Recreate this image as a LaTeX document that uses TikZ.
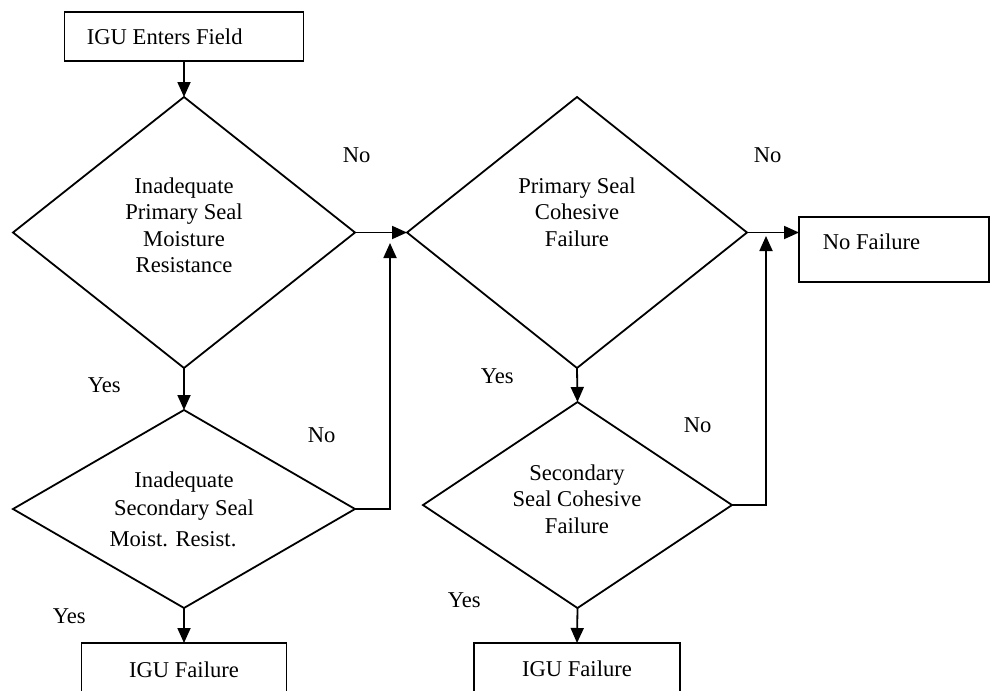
\documentclass[tikz,border=0pt]{standalone}
\usepackage{fontspec}
\setmainfont{Liberation Serif}
\usetikzlibrary{arrows.meta,shapes.geometric}
\begin{document}
\begin{tikzpicture}[x=1pt,y=-1pt,
  font=\fontsize{22.6}{26.5}\selectfont,
  line width=1.8pt,
  arr/.style={-{Triangle[length=15pt,width=13pt]}},
  decision/.style={diamond,draw,inner sep=0pt,outer sep=0pt,aspect=1},
  stepbox/.style={rectangle,draw,inner sep=0pt,outer sep=0pt},
  txt/.style={anchor=base,inner sep=0pt},
  lbl/.style={anchor=base west,inner sep=0pt}]
\clip (0,0) rectangle (991,691);

% boxes
\node[stepbox,minimum width=239pt,minimum height=49pt] (start) at (184,36.5) {};
\node[lbl] (starttxt) at (86,44) {IGU Enters Field};
\node[stepbox,minimum width=190pt,minimum height=65pt] (nofail) at (894,249.5) {};
\node[lbl] (nofailtxt) at (822,249) {No Failure};
\node[stepbox,anchor=north,minimum width=205pt,minimum height=80pt] (fail1) at (184,643) {};
\node[txt] (fail1txt) at (184,677) {IGU Failure};
\node[stepbox,anchor=north,minimum width=206pt,minimum height=80pt] (fail2) at (577,643) {};
\node[txt] (fail2txt) at (577,676) {IGU Failure};

% decisions
\node[decision,minimum width=342pt,minimum height=271pt] (d1) at (184,232.5) {};
\node[txt] (d1txt) at (184,193) {\begin{tabular}[t]{@{}c@{}}Inadequate\\Primary Seal\\Moisture\\Resistance\end{tabular}};
\node[decision,minimum width=342pt,minimum height=198pt] (d2) at (184,509) {};
\node[txt] (d2txt) at (184,487) {\begin{tabular}[t]{@{}c@{}}Inadequate\\[1.5pt]Secondary Seal\\[4.5pt]Moist. Resist.\hspace*{22pt}\end{tabular}};
\node[decision,minimum width=340pt,minimum height=271pt] (d3) at (577,232.5) {};
\node[txt] (d3txt) at (577,193) {\begin{tabular}[t]{@{}c@{}}Primary Seal\\Cohesive\\Failure\end{tabular}};
\node[decision,minimum width=309pt,minimum height=206pt] (d4) at (577.5,505) {};
\node[txt] (d4txt) at (577,480) {\begin{tabular}[t]{@{}c@{}}Secondary\\Seal Cohesive\\Failure\end{tabular}};

% branch labels
\node[lbl] (no1) at (342,162) {No};
\node[lbl] (no3) at (753,162) {No};
\node[lbl] (yes1) at (87,392) {Yes};
\node[lbl] (yes2) at (52,623) {Yes};
\node[lbl] (no2) at (307,442) {No};
\node[lbl] (yes3) at (480,383) {Yes};
\node[lbl] (yes4) at (447,607) {Yes};
\node[lbl] (no4) at (683,432) {No};

% joins onto the horizontal lines
\coordinate (j1) at (390,243);
\coordinate (j2) at (766,236);

% connectors
\draw[arr] (start.south) -- (d1.north);
\draw[arr] (d1.south) -- (d2.north);
\draw[arr] (d2.south) -- (fail1.north);
\draw[arr] (d1.east) -- (d3.west);
\draw[arr] (d2.east) -| (j1);
\draw[arr] (d3.south) -- (d4.north);
\draw[arr] (d4.south) -- (fail2.north);
\draw[arr] (d3.east) -- (d3.east -| nofail.west);
\draw[arr] (d4.east) -| (j2);
\end{tikzpicture}
\end{document}
